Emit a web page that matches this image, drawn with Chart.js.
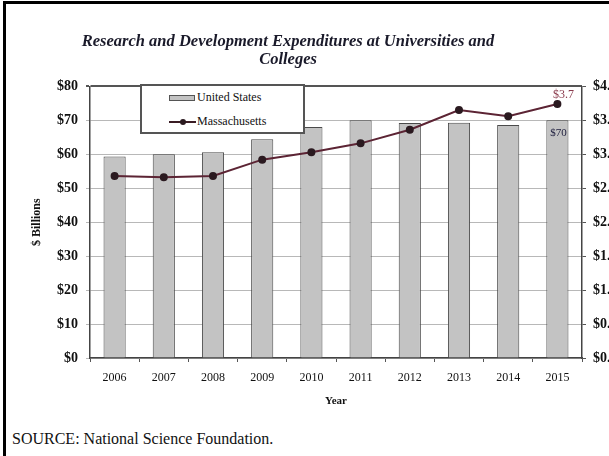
<!DOCTYPE html>
<html>
<head>
<meta charset="utf-8">
<script src="https://cdn.jsdelivr.net/npm/chart.js@4.4.1/dist/chart.umd.min.js"></script>
<style>
  body { margin: 0; width: 609px; height: 456px; overflow: hidden; background: #fff; position: relative; font-family: "Liberation Serif", "Times New Roman", serif; }
  #frame { position: absolute; left: 3px; top: 1px; width: 700px; height: 600px; border: 3px solid #000; }
  #wrap { position: absolute; left: -40px; top: 0; width: 656px; height: 420px; }
  #legend { position: absolute; left: 140px; top: 84px; width: 165px; height: 50px; box-sizing: border-box; border: 2px solid #555; background: #fff; font-size: 12px; color: #111; }
  #legend .item { position: absolute; left: 27px; white-space: nowrap; }
  #legend .sw { display: inline-block; vertical-align: middle; }
  #source { position: absolute; left: 12px; top: 430px; font-size: 16px; color: #111; white-space: nowrap; }
</style>
</head>
<body>
<div id="frame"></div>
<div id="wrap"><canvas id="chart" width="656" height="420"></canvas></div>
<div id="legend">
  <div class="item" style="top:4px"><span class="sw" style="width:24px;height:4px;background:#c3c3c3;border:1px solid #555;margin-right:2px"></span>United States</div>
  <div class="item" style="top:28px"><span class="sw" style="width:27px;height:2px;background:#3a1c24;position:relative;margin-right:1px"><span style="position:absolute;left:11px;top:-2px;width:6px;height:6px;border-radius:3px;background:#2b1a20"></span></span>Massachusetts</div>
</div>
<div id="source">SOURCE: National Science Foundation.</div>
<script>
const years = ["2006", "2007", "2008", "2009", "2010", "2011", "2012", "2013", "2014", "2015"];
const usValues = [59.3, 60.0, 60.6, 64.4, 68.0, 70.0, 69.2, 69.3, 68.6, 70.0];
const maValues = [2.68, 2.66, 2.68, 2.92, 3.03, 3.16, 3.36, 3.65, 3.56, 3.74];
const leftTicks = ["$0", "$10", "$20", "$30", "$40", "$50", "$60", "$70", "$80"];
const rightTicks = ["$0.0", "$0.5", "$1.0", "$1.5", "$2.0", "$2.5", "$3.0", "$3.5", "$4.0"];
const usEndLabel = "$70";
const maEndLabel = "$3.7";

const serif = '"Liberation Serif", "Times New Roman", serif';

// value labels on the last bar and last point
const endLabels = {
  id: "endLabels",
  afterDatasetsDraw(chart) {
    const ctx = chart.ctx;
    const last = years.length - 1;
    const bar = chart.getDatasetMeta(0).data[last];
    const pt = chart.getDatasetMeta(1).data[last];
    ctx.save();
    ctx.textAlign = "center";
    ctx.textBaseline = "middle";
    ctx.font = "11px " + serif;
    ctx.fillStyle = "#1b1b3b";
    ctx.fillText(usEndLabel, bar.x + 1, bar.y + 13);
    ctx.font = "12px " + serif;
    ctx.fillStyle = "#8a3a4c";
    ctx.fillText(maEndLabel, pt.x + 6, pt.y - 9);
    ctx.restore();
  },
};

const ctx = document.getElementById("chart").getContext("2d");
const chart = new Chart(ctx, {
  type: "bar",
  data: {
    labels: years,
    datasets: [
      {
        label: "United States",
        data: usValues,
        backgroundColor: "#c3c3c3",
        borderColor: "#4a4a4a",
        borderWidth: 1,
        barPercentage: 0.45,
        categoryPercentage: 1,
        yAxisID: "y",
        order: 2,
      },
      {
        type: "line",
        label: "Massachusetts",
        data: maValues,
        yAxisID: "y1",
        borderColor: "#5c2434",
        borderWidth: 2,
        pointRadius: 3,
        pointBackgroundColor: "#2b1a20",
        pointBorderColor: "#2b1a20",
        tension: 0,
        order: 1,
      },
    ],
  },
  options: {
    responsive: false,
    animation: false,
    devicePixelRatio: 1,
    layout: { padding: 0 },
    plugins: {
      legend: { display: false },
      tooltip: { enabled: false },
      title: {
        display: true,
        text: ["Research and Development Expenditures at Universities and", "Colleges"],
        color: "#1a1a2a",
        font: { family: serif, size: 16.5, style: "italic", weight: "bold", lineHeight: 1.1 },
        padding: { top: 33, bottom: 17 },
      },
    },
    scales: {
      x: {
        offset: true,
        grid: { display: true, drawOnChartArea: false, drawTicks: true, tickLength: 4, color: "#555", offset: true },
        border: { color: "#444", width: 1.5 },
        ticks: { color: "#111", font: { family: serif, size: 12 }, padding: 9, maxRotation: 0 },
        title: { display: true, text: "Year", color: "#111", font: { family: serif, size: 11, weight: "bold" }, padding: { top: 0, bottom: 12 } },
        afterFit: (s) => { s.height = 62; },
      },
      y: {
        position: "left",
        min: 0,
        max: 80,
        ticks: {
          stepSize: 10,
          padding: 8,
          color: "#111",
          font: { family: serif, size: 14, weight: "bold" },
          callback: (v) => leftTicks[Math.round(v / 10)],
        },
        grid: {
          tickLength: 4,
          color: (c) => (c.tick && c.tick.value === 80 ? "#555" : "#b8b8b8"),
          lineWidth: (c) => (c.tick && c.tick.value === 80 ? 2 : 1),
        },
        border: { color: "#444", width: 1.5 },
        title: { display: true, text: "$ Billions", color: "#111", font: { family: serif, size: 12, weight: "bold" }, padding: { top: 70, bottom: 0 } },
        afterFit: (s) => { s.width = 130; },
      },
      y1: {
        position: "right",
        min: 0,
        max: 4,
        ticks: {
          stepSize: 0.5,
          padding: 7,
          color: "#111",
          font: { family: serif, size: 14, weight: "bold" },
          callback: (v) => rightTicks[Math.round(v * 2)],
        },
        grid: { drawOnChartArea: false, tickLength: 4, color: "#555" },
        border: { color: "#444", width: 1.5 },
        afterFit: (s) => { s.width = 34; },
      },
    },
  },
  plugins: [endLabels],
});
</script>
</body>
</html>
